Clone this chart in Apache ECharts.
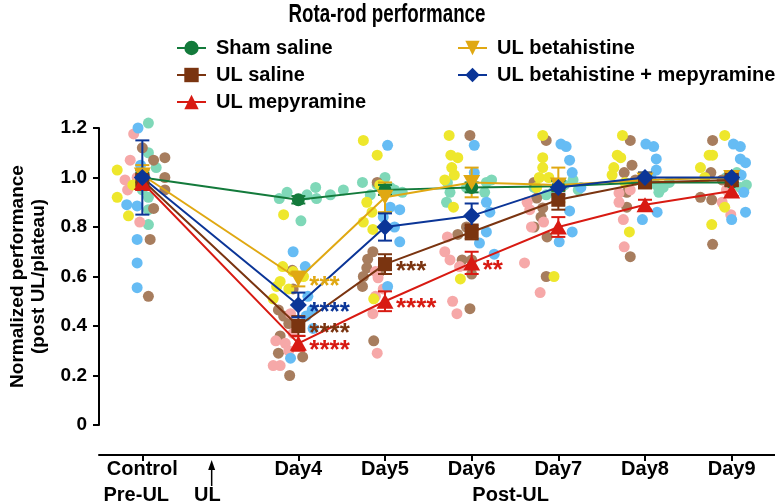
<!DOCTYPE html>
<html><head><meta charset="utf-8">
<script src="https://cdn.jsdelivr.net/npm/echarts@6/dist/echarts.min.js"></script>
<style>html,body{margin:0;padding:0;background:#fff}#c{width:775px;height:502px}</style>
</head><body><div id="c"></div>
<script>
// ---- data ----
const titleText = 'Rota-rod performance';
const xLabels = ['Control','Day4','Day5','Day6','Day7','Day8','Day9'];
const xPos = [2.2, 4, 5, 6, 7, 8, 9];
const phaseLabels = ['Pre-UL','UL','Post-UL'];
const phasePos = [2.13, 2.95, 6.45];
const ulDay = 3;

const shamMean = [1.00, 0.91, 0.95, 0.96, 0.965, 0.98, 0.98];
const shamSem  = [0.02, 0.015, 0.02, 0.02, 0.02, 0.015, 0.015];
const salMean  = [0.99, 0.40, 0.65, 0.78, 0.91, 0.98, 0.99];
const salSem   = [0.04, 0.04, 0.04, 0.03, 0.04, 0.02, 0.02];
const mepMean  = [0.98, 0.33, 0.50, 0.655, 0.80, 0.89, 0.945];
const mepSem   = [0.03, 0.03, 0.04, 0.045, 0.04, 0.02, 0.02];
const betMean  = [1.01, 0.59, 0.92, 0.98, 0.97, 0.99, 1.00];
const betSem   = [0.04, 0.03, 0.06, 0.06, 0.07, 0.03, 0.02];
const bmMean   = [1.00, 0.485, 0.80, 0.845, 0.96, 1.00, 1.00];
const bmSem    = [0.15, 0.05, 0.055, 0.05, 0.03, 0.02, 0.02];

const salSig = ['', '****', '***', '', '', '', ''];
const mepSig = ['', '****', '****', '**', '', '', ''];
const betSig = ['', '***', '', '', '', '', ''];
const bmSig  = ['', '****', '', '', '', '', ''];

// individual animals: [day index, jitter (days), value]
const shamPts = [
 [0,0.07,1.22],[0,0.07,1.10],[0,0.16,1.04],[0,0.07,0.92],[0,0.07,0.87],[0,0.07,0.81],[0,0.03,1.00],[0,0,0.95],
 [1,-0.13,0.94],[1,0.2,0.96],[1,-0.22,0.915],[1,0.1,0.93],[1,0.21,0.915],[1,0.03,0.825],[1,0.37,0.93],[1,0.52,0.95],
 [2,-0.26,0.98],[2,0,1.0],[2,0.2,0.94],[2,0.11,0.95],[2,-0.17,0.93],[2,0.06,0.96],[2,-0.09,0.97],
 [3,-0.28,0.98],[3,-0.25,0.94],[3,0.17,0.98],[3,0.23,0.99],[3,0.15,0.94],[3,-0.29,0.90],[3,-0.06,0.96],
 [4,-0.28,0.96],[4,-0.14,0.93],[4,0.07,0.97],[4,0.17,0.99],[4,0.23,0.95],[4,-0.06,0.94],
 [5,0.13,0.97],[5,0.28,0.98],[5,0.16,0.94],[5,0.06,1.0],[5,-0.06,0.99],[5,0.21,0.96],
 [6,0.06,1.02],[6,0.1,0.96],[6,0.14,0.95],[6,0.02,0.99],[6,-0.06,1.0],[6,0.17,0.97]
];
const salPts = [
 [0,0,1.12],[0,0.13,1.07],[0,0.26,1.08],[0,0.26,1.0],[0,0.26,0.95],[0,0.13,0.875],[0,0.09,0.75],[0,0.07,0.52],
 [1,-0.07,0.625],[1,-0.23,0.465],[1,-0.11,0.41],[1,-0.21,0.36],[1,-0.23,0.29],[1,0.05,0.275],[1,-0.1,0.20],[1,-0.06,0.55],[1,-0.17,0.44],
 [2,-0.09,0.98],[2,-0.14,0.70],[2,-0.2,0.67],[2,-0.21,0.635],[2,-0.25,0.60],[2,-0.26,0.56],[2,-0.13,0.34],[2,-0.06,0.62],
 [3,-0.02,1.17],[3,-0.16,0.77],[3,-0.11,0.667],[3,0,0.667],[3,0,0.61],[3,-0.02,0.47],[3,-0.06,0.80],
 [4,-0.14,1.15],[4,-0.28,0.98],[4,-0.25,0.917],[4,-0.18,0.877],[4,-0.2,0.84],[4,-0.28,0.80],[4,-0.13,0.76],[4,-0.14,0.60],
 [5,-0.17,1.15],[5,-0.15,1.05],[5,-0.24,1.02],[5,-0.21,0.94],[5,-0.21,0.88],[5,-0.17,0.68],[5,-0.11,0.99],
 [6,-0.22,1.15],[6,-0.24,1.02],[6,-0.36,0.92],[6,-0.23,0.91],[6,-0.22,0.73],[6,-0.11,0.99]
];
const mepPts = [
 [0,-0.1,1.176],[0,-0.14,1.07],[0,-0.2,0.99],[0,-0.17,0.95],[0,-0.03,0.82],[0,-0.06,1.0],
 [1,-0.26,0.34],[1,-0.15,0.33],[1,-0.21,0.24],[1,-0.29,0.24],[1,-0.06,0.37],[1,-0.11,0.30],[1,-0.09,0.45],
 [2,-0.08,0.595],[2,-0.11,0.52],[2,-0.14,0.45],[2,-0.09,0.29],[2,-0.02,0.55],[2,-0.11,0.62],
 [3,-0.28,0.76],[3,-0.31,0.70],[3,-0.25,0.667],[3,-0.22,0.50],[3,-0.17,0.45],[3,-0.14,0.64],
 [4,-0.36,0.90],[4,-0.33,0.87],[4,-0.31,0.80],[4,-0.39,0.655],[4,-0.21,0.535],[4,-0.17,0.82],
 [5,-0.3,0.937],[5,-0.3,0.90],[5,-0.25,0.83],[5,-0.24,0.72],[5,-0.17,0.95],
 [6,-0.11,0.90],[6,-0.01,0.85],[6,-0.06,0.95]
];
const betPts = [
 [0,-0.29,1.03],[0,-0.29,0.92],[0,-0.16,0.845],[0,-0.11,0.97],
 [1,-0.17,0.85],[1,-0.18,0.64],[1,-0.21,0.58],[1,-0.29,0.51],[1,-0.11,0.55],[1,-0.06,0.62],[1,0.06,0.60],[1,-0.25,0.56],
 [2,-0.25,1.15],[2,-0.09,1.09],[2,-0.21,0.90],[2,-0.15,0.86],[2,-0.25,0.82],[2,-0.14,0.79],[2,-0.13,0.51],[2,-0.06,0.97],
 [3,-0.26,1.17],[3,-0.24,1.09],[3,-0.16,1.08],[3,-0.23,1.04],[3,-0.2,1.01],[3,-0.31,0.99],[3,-0.21,0.88],[3,-0.13,0.59],
 [4,-0.18,1.17],[4,-0.18,1.08],[4,-0.18,1.04],[4,-0.22,1.0],[4,-0.05,0.60],[4,-0.11,1.0],[4,-0.25,0.96],
 [5,-0.26,1.17],[5,-0.32,1.09],[5,-0.28,1.08],[5,-0.36,1.04],[5,-0.38,1.01],[5,-0.18,0.78],[5,-0.23,0.98],
 [6,-0.08,1.17],[6,-0.26,1.09],[6,-0.22,1.09],[6,-0.36,1.04],[6,-0.08,0.88],[6,-0.23,0.81],[6,-0.31,1.0]
];
const bmPts = [
 [0,-0.05,1.20],[0,-0.18,0.89],[0,-0.06,0.885],[0,-0.06,0.75],[0,-0.06,0.655],[0,-0.06,0.555],[0,-0.02,1.05],
 [1,-0.06,0.70],[1,0.08,0.64],[1,0.16,0.465],[1,-0.09,0.27],[1,0.09,0.44],[1,0.11,0.52],[1,0.17,0.39],
 [2,0.03,1.13],[2,0.17,0.87],[2,0.06,0.88],[2,0.11,0.80],[2,0.17,0.74],[2,0.03,0.56],[2,-0.02,0.84],
 [3,0.03,1.13],[3,0.03,1.02],[3,0.17,0.90],[3,0.21,0.86],[3,0.17,0.78],[3,0.09,0.735],[3,0.26,0.69],
 [4,0.03,1.135],[4,0.09,1.125],[4,0.13,1.07],[4,0.16,1.02],[4,0.26,0.96],[4,0.13,0.865],[4,0.16,0.78],[4,0.01,0.74],
 [5,0.01,1.135],[5,0.1,1.125],[5,0.13,1.075],[5,0.13,1.03],[5,0.14,0.86],[5,-0.03,0.83],[5,0.07,1.0],
 [6,0.02,1.135],[6,0.1,1.125],[6,0.1,1.075],[6,0.16,1.06],[6,0.11,1.01],[6,0.14,0.94],[6,0.16,0.86],[6,0,0.83]
];

// ---- styling / assembly ----
const FONT = '"Liberation Sans", Arial, sans-serif';
const INV_TRI = 'path://M0,0L10,0L5,9Z';
const groups = [
 {name:'Sham saline', mean:shamMean, sem:shamSem, pts:shamPts, sig:null, line:'#137a3b', dot:'#7fd8b8', symbol:'circle', size:13},
 {name:'UL betahistine', mean:betMean, sem:betSem, pts:betPts, sig:betSig, line:'#e0a812', dot:'#eee72c', symbol:INV_TRI, size:[17,15]},
 {name:'UL saline', mean:salMean, sem:salSem, pts:salPts, sig:salSig, line:'#7a3410', dot:'#a77d5e', symbol:'rect', size:14},
 {name:'UL mepyramine', mean:mepMean, sem:mepSem, pts:mepPts, sig:mepSig, line:'#d81a12', dot:'#f6a8a8', symbol:'triangle', size:[17,15]},
 {name:'UL betahistine + mepyramine', mean:bmMean, sem:bmSem, pts:bmPts, sig:bmSig, line:'#0b3597', dot:'#66bcf4', symbol:'diamond', size:17}
];
const dotOrder = [0, 2, 3, 1, 4];

const series = [];
dotOrder.forEach(gi => {
  const g = groups[gi];
  series.push({
    type:'scatter', name:g.name+' (individual)', clip:false, z:1, silent:true,
    symbol:'circle', symbolSize:11,
    itemStyle:{color:g.dot, opacity:1},
    data:g.pts.map(p => [xPos[p[0]] + p[1], p[2]])
  });
});
groups.forEach(g => {
  series.push({
    type:'custom', name:g.name+' SEM', z:3, clip:false, silent:true,
    data:xPos.map((x,i) => [x, g.mean[i], g.sem[i]]),
    renderItem:(params, api) => {
      const x = api.value(0), m = api.value(1), s = api.value(2);
      const p = api.coord([x, m + s]), q = api.coord([x, m - s]);
      const w = 7, st = {stroke:g.line, lineWidth:2};
      return {type:'group', children:[
        {type:'line', shape:{x1:p[0],y1:p[1],x2:q[0],y2:q[1]}, style:st},
        {type:'line', shape:{x1:p[0]-w,y1:p[1],x2:p[0]+w,y2:p[1]}, style:st},
        {type:'line', shape:{x1:q[0]-w,y1:q[1],x2:q[0]+w,y2:q[1]}, style:st}
      ]};
    }
  });
  series.push({
    type:'line', name:g.name, z:4, symbol:g.symbol, symbolSize:g.size, showAllSymbol:true,
    lineStyle:{color:g.line, width:2}, itemStyle:{color:g.line, borderWidth:0},
    data:xPos.map((x,i) => [x, g.mean[i]])
  });
  if (g.sig) {
    series.push({
      type:'custom', name:g.name+' sig', z:5, clip:false, silent:true,
      data:xPos.map((x,i) => [x, g.mean[i], g.sig[i]]).filter(d => d[2]),
      renderItem:(params, api) => {
        const c = api.coord([api.value(0), api.value(1)]);
        const t = g.sig.filter(s => s)[params.dataIndex];
        return {type:'text', x:c[0]+11, y:c[1]+8,
          style:{text:t, fill:g.line, font:'bold 26px ' + FONT, textAlign:'left', textVerticalAlign:'middle'}};
      }
    });
  }
});
// UL arrow
series.push({
  type:'custom', name:'UL arrow', clip:false, silent:true, z:5,
  data:[[ulDay, 0]],
  renderItem:(params, api) => {
    const c = api.coord([api.value(0), api.value(1)]);
    return {type:'group', children:[
      {type:'line', shape:{x1:c[0], y1:c[1]+42, x2:c[0], y2:c[1]+61}, style:{stroke:'#000', lineWidth:1.5}},
      {type:'polygon', shape:{points:[[c[0], c[1]+35],[c[0]-3.5, c[1]+45],[c[0]+3.5, c[1]+45]]}, style:{fill:'#000'}}
    ]};
  }
});

const labelFor = (arr, labs) => v => {
  for (let i = 0; i < arr.length; i++) if (Math.abs(arr[i] - v) < 1e-6) return labs[i];
  return '';
};
const legendText = {fontFamily:FONT, fontWeight:'bold', fontSize:20, color:'#000', padding:[0,0,0,5]};

const option = {
  animation:false,
  backgroundColor:'#fff',
  graphic:[{type:'text', x:387, y:15, scaleX:0.75, silent:true,
    style:{text:titleText, font:'bold 25px ' + FONT, fill:'#000', textAlign:'center', textVerticalAlign:'middle'}}],
  legend:[
    {data:['Sham saline','UL saline','UL mepyramine'], orient:'vertical', left:171, top:33, itemGap:7,
     itemWidth:29, itemHeight:18, textStyle:legendText},
    {data:['UL betahistine','UL betahistine + mepyramine'], orient:'vertical', left:452, top:33, itemGap:7,
     itemWidth:29, itemHeight:18, textStyle:legendText}
  ],
  grid:{left:99, right:0, top:128, bottom:77, containLabel:false, outerBoundsMode:'none'},
  xAxis:[
    {type:'value', min:1.7, max:9.5, position:'bottom', offset:30,
     axisLine:{onZero:false, lineStyle:{color:'#000', width:2}},
     axisTick:{customValues:xPos, length:6, lineStyle:{color:'#000', width:2}},
     axisLabel:{customValues:xPos, formatter:labelFor(xPos, xLabels), margin:4,
       fontFamily:FONT, fontWeight:'bold', fontSize:20, color:'#000'},
     splitLine:{show:false}},
    {type:'value', min:1.7, max:9.5, position:'bottom', offset:30,
     axisLine:{show:false, onZero:false}, axisTick:{show:false},
     axisLabel:{customValues:phasePos, formatter:labelFor(phasePos, phaseLabels), margin:30,
       fontFamily:FONT, fontWeight:'bold', fontSize:20, color:'#000'},
     splitLine:{show:false}}
  ],
  yAxis:{type:'value', min:0, max:1.2, interval:0.2,
    name:'Normalized performance\n(post UL/plateau)', nameLocation:'middle', nameGap:42,
    nameTextStyle:{fontFamily:FONT, fontWeight:'bold', fontSize:19, color:'#000', lineHeight:21},
    axisLine:{show:true, onZero:false, lineStyle:{color:'#000', width:2}},
    axisTick:{show:true, length:6, lineStyle:{color:'#000', width:2}},
    axisLabel:{formatter:v => v === 0 ? '0' : v.toFixed(1), margin:12,
      fontFamily:FONT, fontWeight:'bold', fontSize:19, color:'#000'},
    splitLine:{show:false}},
  series:series
};
const chart = echarts.init(document.getElementById('c'), null, {renderer:'canvas'});
chart.setOption(option);
</script></body></html>
